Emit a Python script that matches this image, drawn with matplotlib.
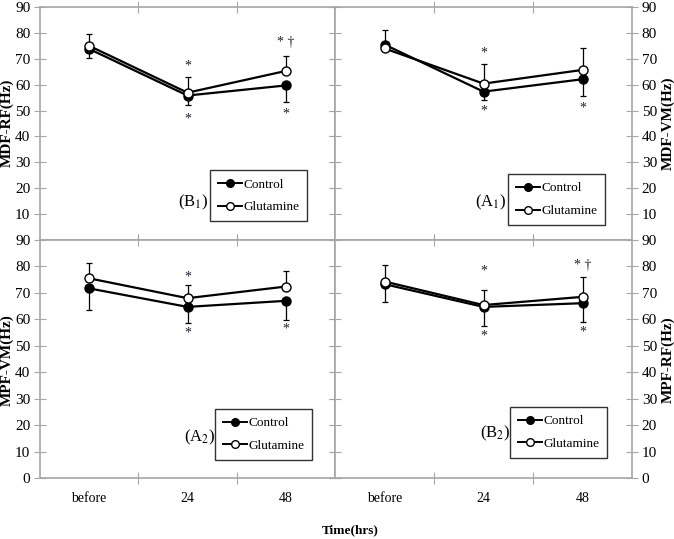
import matplotlib
matplotlib.use("Agg")
import matplotlib.pyplot as plt
from matplotlib.lines import Line2D

plt.rcParams["font.family"] = ["Liberation Serif", "DejaVu Serif"]
plt.rcParams["mathtext.fontset"] = "stix"

times = ["before", "24", "48"]

# MDF-RF (B1)
mdf_rf_ctrl = [73.8, 55.8, 59.7]
mdf_rf_glut = [75.0, 56.9, 65.3]
mdf_rf_ctrl_sd = [3.5, 3.8, 6.3]
mdf_rf_glut_sd = [4.6, 6.1, 5.9]

# MDF-VM (A1)
mdf_vm_ctrl = [75.5, 57.3, 62.1]
mdf_vm_glut = [74.0, 60.4, 65.7]
mdf_vm_ctrl_sd = [1.5, 3.3, 6.3]
mdf_vm_glut_sd = [7.2, 7.6, 8.3]

# MPF-VM (A2)
mpf_vm_ctrl = [71.7, 64.7, 67.0]
mpf_vm_glut = [75.5, 68.0, 72.4]
mpf_vm_ctrl_sd = [8.1, 6.2, 7.2]
mpf_vm_glut_sd = [5.7, 4.9, 6.0]

# MPF-RF (B2)
mpf_rf_ctrl = [73.3, 64.7, 66.1]
mpf_rf_glut = [74.3, 65.4, 68.5]
mpf_rf_ctrl_sd = [6.9, 7.2, 7.1]
mpf_rf_glut_sd = [6.2, 5.6, 7.4]

# significance marks: (time index, value, text)
marks_b1 = [(1, 67.3, "*"), (1, 46.9, "*"), (2, 76.4, "* †"), (2, 48.8, "*")]
marks_a1 = [(1, 72.2, "*"), (1, 50.0, "*"), (2, 51.0, "*")]
marks_a2 = [(1, 76.1, "*"), (1, 54.7, "*"), (2, 56.3, "*")]
marks_b2 = [(1, 78.4, "*"), (1, 53.7, "*"), (2, 80.3, "* †"), (2, 55.2, "*")]

fig = plt.figure(figsize=(6.74, 5.39), dpi=100)
W, H = 674, 539


def add_ax(x0, x1, y0, y1):
    return fig.add_axes([x0 / W, 1 - y1 / H, (x1 - x0) / W, (y1 - y0) / H])


ax_b1 = add_ax(40, 335, 7, 240)
ax_a1 = add_ax(335, 632, 7, 240)
ax_a2 = add_ax(40, 335, 240, 478)
ax_b2 = add_ax(335, 632, 240, 478)

panels = [
    (ax_b1, mdf_rf_ctrl, mdf_rf_glut, mdf_rf_ctrl_sd, mdf_rf_glut_sd, marks_b1,
     "(B$_1$)", (0.52, 0.163), "MDF-RF(Hz)", (7, 123), "left", True, (0.905, 0.08)),
    (ax_a1, mdf_vm_ctrl, mdf_vm_glut, mdf_vm_ctrl_sd, mdf_vm_glut_sd, marks_a1,
     "(A$_1$)", (0.525, 0.163), "MDF-VM(Hz)", (668, 123), "right", True, (0.909, 0.064)),
    (ax_a2, mpf_vm_ctrl, mpf_vm_glut, mpf_vm_ctrl_sd, mpf_vm_glut_sd, marks_a2,
     "(A$_2$)", (0.54, 0.172), "MPF-VM(Hz)", (7, 360), "left", False, (0.922, 0.076)),
    (ax_b2, mpf_rf_ctrl, mpf_rf_glut, mpf_rf_ctrl_sd, mpf_rf_glut_sd, marks_b2,
     "(B$_2$)", (0.54, 0.189), "MPF-RF(Hz)", (668, 360), "right", False, (0.916, 0.084)),
]

x = list(range(len(times)))
grey = "#a6a6a6"

for ax, ctrl, glut, csd, gsd, marks, tag, tagpos, ylab, labpos, side, top, anchor in panels:
    ax.errorbar(x, ctrl, yerr=[csd, [0] * 3], color="black", ecolor="black",
                elinewidth=0.9, capsize=2.5, capthick=0.9, lw=1.6, marker="o",
                ms=6.5, mfc="black", mec="black", zorder=3)
    ax.errorbar(x, glut, yerr=[[0] * 3, gsd], color="black", ecolor="black",
                elinewidth=0.9, capsize=2.5, capthick=0.9, lw=1.6, marker="o",
                ms=6.5, mfc="white", mec="black", zorder=4)
    for i, v, t in marks:
        ax.text(i, v, t, ha="center", va="center", fontsize=10, color="#202030")

    ax.set_xlim(-0.5, 2.5)
    ax.set_ylim(0, 90)
    ax.set_xticks([0.5, 1.5])
    ax.set_xticklabels([])
    ax.set_xticks(x, minor=True)
    ax.tick_params(axis="x", which="minor", length=0, labelsize=10, pad=10)
    ax.tick_params(axis="x", which="major", direction="inout", length=8,
                   color=grey, top=True, bottom=True)
    for s in ax.spines.values():
        s.set_color(grey)
        s.set_linewidth(1.2)

    ticks = list(range(10, 91, 10)) if top else list(range(0, 91, 10))
    ax.set_yticks(ticks)
    ax.tick_params(axis="y", direction="inout", length=8, color=grey,
                   left=True, right=True, labelsize=11, pad=3,
                   labelleft=(side == "left"), labelright=(side == "right"))
    fig.text(labpos[0] / W, 1 - labpos[1] / H, ylab, rotation=90,
             ha="center", va="center", fontsize=11, fontweight="bold")

    if top:
        ax.set_xticklabels([], minor=True)
    else:
        ax.set_xticklabels(times, minor=True)

    handles = [
        Line2D([], [], color="black", lw=1.4, marker="o", ms=5.5, mfc="black", mec="black"),
        Line2D([], [], color="black", lw=1.4, marker="o", ms=5.5, mfc="white", mec="black"),
    ]
    leg = ax.legend(handles, ["Control", "Glutamine"], loc="lower right",
                    bbox_to_anchor=anchor, fontsize=9.5, frameon=True,
                    fancybox=False, handlelength=1.8, borderpad=0.6,
                    labelspacing=0.8, handletextpad=0.1, borderaxespad=0)
    leg.get_frame().set_edgecolor("black")
    leg.get_frame().set_linewidth(1.0)
    ax.text(tagpos[0], tagpos[1], tag, transform=ax.transAxes,
            ha="center", va="center", fontsize=12)

fig.text(350 / W, 1 - 530 / H, "Time(hrs)", ha="center", va="center",
         fontsize=9.5, fontweight="bold")

fig.savefig("out.png", dpi=100)
